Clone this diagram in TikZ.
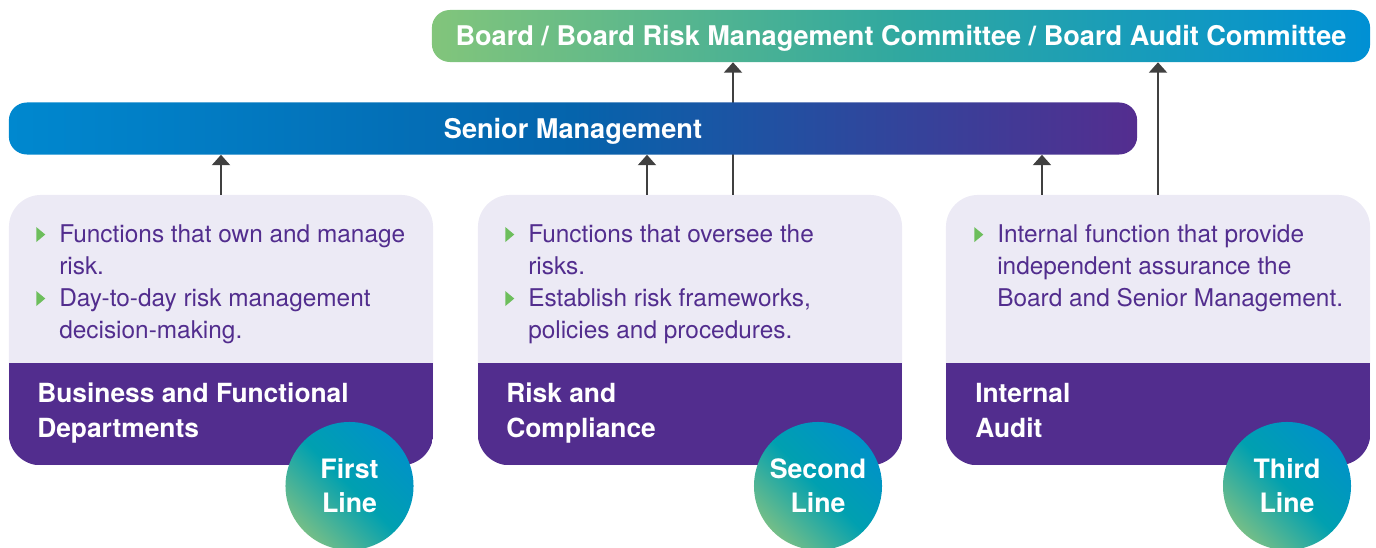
\documentclass[tikz,border=0pt]{standalone}
\usepackage{fontspec}
\setmainfont{TeX Gyre Heros}
\usepackage{tikz}
\usetikzlibrary{arrows.meta,positioning}

\definecolor{deep}{HTML}{522D8E}
\definecolor{lilac}{HTML}{ECEAF5}
\definecolor{leaf}{HTML}{6DBE5C}
\definecolor{ink}{HTML}{404040}
\definecolor{grass}{HTML}{82C57B}
\definecolor{sea}{HTML}{30A8A0}
\definecolor{sky}{HTML}{0090D4}
\definecolor{azure}{HTML}{0088CF}
\definecolor{navy}{HTML}{0564AC}
\definecolor{plum}{HTML}{542D8F}
\definecolor{mint}{HTML}{74BE88}
\definecolor{teal}{HTML}{00A0B0}
\definecolor{cyan}{HTML}{0092C8}

% green bullet in front of each point
\newcommand{\mk}{\llap{\tikz[baseline=0pt]\fill[leaf] (0pt,0pt) -- (0pt,10.7pt) -- (6.4pt,5.35pt) -- cycle;\hspace{0.35cm}}}

\begin{document}
\begin{tikzpicture}[x=0.025cm,y=0.025cm,
        lift/.style={draw=ink,line width=1.5pt,-{Triangle[width=0.45cm,length=0.26cm]}},
        bar/.style={rounded corners=0.45cm,minimum height=1.3cm,inner sep=0pt,text=white,
            font=\fontsize{19.3pt}{24pt}\selectfont\bfseries,text height=13.8pt,text depth=0pt}]%
        \useasboundingbox (0,0) rectangle (1376,547);
        \begin{scope}
            \tikzstyle{every node}=[fill=lilac,rounded corners=0.8cm,minimum width=10.6cm,minimum height=6.75cm,inner sep=0pt];%%
            \node (b1) at (221,217) {}; %%
            \node (b2) at (690,217) {}; %%
            \node (b3) at (1158,217) {}; %%
        \end{scope}
        \foreach \b in {b1,b2,b3}{%
            \begin{scope}
                \clip[rounded corners=0.8cm] (\b.south west) rectangle (\b.north east);
                \fill[deep] (\b.south west) rectangle ([yshift=2.55cm]\b.south east);
            \end{scope}
        }
        \node[bar,minimum width=23.45cm,left color=grass,right color=sky,middle color=sea] (board) at (901,511)
            {Board / Board Risk Management Committee / Board Audit Committee}; %%
        \coordinate (up2) at ([xshift=1.075cm]b2.north); %%
        \draw[lift] (up2) -- (board.south -| up2); %% runs under the management bar
        \node[bar,minimum width=28.2cm,left color=azure,right color=plum,middle color=navy] (sm) at (573,418.5)
            {Senior Management}; %%
        \coordinate (up1) at ([xshift=-1.075cm]b2.north); %%
        \coordinate (up3) at ([xshift=-2.9cm]b3.north); %%
        \draw[lift] (b1.north) -- (sm.south -| b1.north); %%
        \draw[lift] (up1) -- (sm.south -| up1); %%
        \draw[lift] (up3) -- (sm.south -| up3); %%
        \draw[lift] (b3.north) -- (board.south -| b3.north); %%
        \begin{scope}
            \tikzstyle{every node}=[anchor=north west,inner sep=0pt,align=left,text=deep,font=\fontsize{17.35pt}{22.76pt}\selectfont];%%
            \node (t1) at (59,323) {\mk Functions that own and manage\\risk.\\\mk Day-to-day risk management\\decision-making.}; %%
            \node (t2) at (528,323) {\mk Functions that oversee the\\risks.\\\mk Establish risk frameworks,\\policies and procedures.}; %%
            \node (t3) at (997,323) {\mk Internal function that provide\\independent assurance the\\Board and Senior Management.}; %%
        \end{scope}
        \begin{scope}
            \tikzstyle{every node}=[anchor=north west,inner sep=0pt,align=left,text=white,font=\fontsize{18.75pt}{24.9pt}\selectfont\bfseries];%%
            \node (h1) at (37,164) {Business and Functional\\Departments}; %%
            \node (h2) at (506,164) {Risk and\\Compliance}; %%
            \node (h3) at (975,164) {Internal\\Audit}; %%
        \end{scope}
        \begin{scope}
            \tikzstyle{every node}=[circle,minimum size=3.2cm,inner sep=0pt,align=center,text=white,
                font=\fontsize{19pt}{24.2pt}\selectfont\bfseries,
                top color=cyan,bottom color=mint,middle color=teal,shading angle=-45];%%
            \node (l1) at (349.5,61) {First\\Line}; %%
            \node (l2) at (818,61) {Second\\Line}; %%
            \node (l3) at (1287,61) {Third\\Line}; %%
        \end{scope}
\end{tikzpicture}
\end{document}
